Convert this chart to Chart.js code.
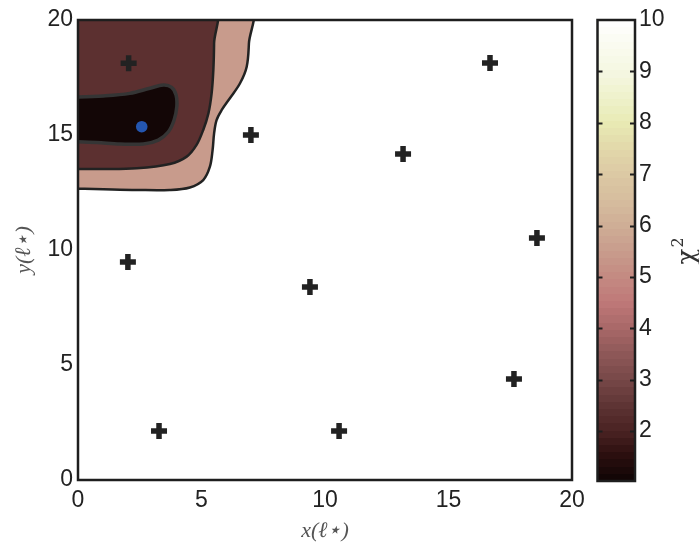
<!DOCTYPE html>
<html><head><meta charset="utf-8">
<script src="https://cdn.jsdelivr.net/npm/chart.js@4.4.0/dist/chart.umd.min.js"></script>
<style>
html,body{margin:0;padding:0;background:#fff;}
#wrap{position:relative;width:699px;height:544px;background:#fff;}
canvas{position:absolute;left:0;top:0;}
</style></head><body>
<div id="wrap"><canvas id="main" width="699" height="544"></canvas><canvas id="cbar" width="699" height="544"></canvas></div>
<script>
// ---- data ----
const axisTicks = [0, 5, 10, 15, 20];
const cbTicks = [2, 3, 4, 5, 6, 7, 8, 9, 10];
const cbRange = [1.03, 10];

// detector positions (plus markers)
const stationX = [2.05, 7.0, 16.68, 13.16, 18.58, 2.02, 9.39, 17.65, 3.28, 10.57];
const stationY = [18.12, 15.0, 18.13, 14.17, 10.52, 9.48, 8.39, 4.39, 2.13, 2.13];
// best-fit source position
const bestX = [2.58];
const bestY = [15.36];

// outer contour (light region)
const outerX = [-0.5, 6.96, 6.92, 6.83, 6.56, 6.15, 5.82, 5.61, 5.51, 5.45, 5.34, 5.07, 4.53, 3.72, 2.38, 1.03, -0.5];
const outerY = [20.5, 20.5, 18.99, 17.97, 17.25, 16.6, 16.09, 15.65, 15.07, 14.35, 13.62, 13.04, 12.72, 12.61, 12.61, 12.64, 12.68];
// middle contour (dark brown region)
const midX = [-0.5, 5.51, 5.51, 5.48, 5.41, 5.28, 5.07, 4.8, 4.4, 3.72, 2.38, 1.03, -0.5];
const midY = [20.5, 20.5, 18.99, 17.83, 16.81, 15.94, 15.22, 14.57, 14.06, 13.74, 13.55, 13.52, 13.53];
// inner contour (minimum region)
const innerX = [-0.5, 1.03, 2.1, 2.91, 3.46, 3.79, 3.97, 4.0, 3.89, 3.66, 3.25, 2.65, 1.7, 0.76, -0.5];
const innerY = [16.63, 16.7, 16.81, 17.03, 17.17, 17.07, 16.74, 16.23, 15.65, 15.14, 14.78, 14.61, 14.61, 14.67, 14.72];

// colormap key colours for chi^2 levels
const cmapLevels = [1.0, 1.5, 2.0, 2.5, 3.0, 3.5, 4.0, 4.5, 5.0, 5.5, 6.0, 6.5, 7.0, 7.5, 8.0, 8.5, 9.0, 9.5, 10.0];
const cmapColors = ['#0d0404', '#2a0e0e', '#4a2222', '#5e3434', '#774848', '#8e5858', '#a86868', '#bf7878', '#c48a82', '#c89c8c', '#cfae96', '#d6bd9e', '#dcc9a4', '#e2d8aa', '#e8eab4', '#eff2cc', '#f5f7e2', '#fafbf0', '#ffffff'];

const zip = (xs, ys) => xs.map((x, i) => ({x, y: ys[i]}));

const tickFont = {family: 'Liberation Sans', size: 23};
const titleFont = {family: 'Liberation Serif', size: 22, style: 'italic'};

const boxPlugin = {
  id: 'box',
  afterDatasetsDraw(chart) {
    const {ctx, chartArea: a} = chart;
    ctx.save();
    ctx.strokeStyle = '#1e1e1e';
    ctx.lineWidth = 2.5;
    ctx.strokeRect(a.left, a.top, a.right - a.left, a.bottom - a.top);
    ctx.restore();
  }
};

new Chart(document.getElementById('main'), {
  type: 'line',
  data: {
    datasets: [
      {type: 'scatter', data: zip(stationX, stationY), pointStyle: 'cross', pointRadius: 8, pointBorderWidth: 5.5, borderColor: '#222', backgroundColor: '#222', pointHoverRadius: 8},
      {type: 'scatter', data: zip(bestX, bestY), pointStyle: 'circle', pointRadius: 5.8, pointBorderWidth: 0, backgroundColor: '#2456b0', borderColor: '#2456b0'},
      {data: zip(innerX, innerY), fill: 'shape', backgroundColor: '#130606', borderColor: '#353535', borderWidth: 3.5, tension: 0.35, pointRadius: 0},
      {data: zip(midX, midY), fill: 'shape', backgroundColor: '#5c3030', borderColor: '#222', borderWidth: 2.5, tension: 0.35, pointRadius: 0},
      {data: zip(outerX, outerY), fill: 'shape', backgroundColor: '#c89b8c', borderColor: '#222', borderWidth: 2.5, tension: 0.35, pointRadius: 0}
    ]
  },
  options: {
    responsive: false, animation: false,
    layout: {padding: {left: 0, top: 20, right: 127, bottom: 0}},
    plugins: {legend: {display: false}, tooltip: {enabled: false}},
    scales: {
      x: {
        type: 'linear', min: 0, max: 20,
        afterBuildTicks: s => { s.ticks = axisTicks.map(v => ({value: v})); },
        afterFit: s => { s.height = 64; },
        grid: {display: false, drawTicks: false}, border: {display: false},
        ticks: {font: tickFont, color: '#222', padding: 7, maxRotation: 0},
        title: {display: true, text: 'x(ℓ⋆)', font: titleFont, color: '#555', padding: {top: 0, bottom: 0}}
      },
      y: {
        type: 'linear', min: 0, max: 20,
        afterBuildTicks: s => { s.ticks = axisTicks.map(v => ({value: v})); },
        afterFit: s => { s.width = 78; },
        grid: {display: false, drawTicks: false}, border: {display: false},
        ticks: {font: tickFont, color: '#222', padding: 5},
        title: {display: true, text: 'y(ℓ⋆)', font: titleFont, color: '#555', padding: {top: 11, bottom: 0}}
      }
    }
  },
  plugins: [boxPlugin]
});

// ---- colour bar ----
function hexToRgb(h) { return [1, 3, 5].map(i => parseInt(h.substr(i, 2), 16)); }
function cmap(v) {
  if (v <= cmapLevels[0]) return hexToRgb(cmapColors[0]);
  for (let i = 1; i < cmapLevels.length; i++) {
    if (v <= cmapLevels[i]) {
      const t = (v - cmapLevels[i - 1]) / (cmapLevels[i] - cmapLevels[i - 1]);
      const a = hexToRgb(cmapColors[i - 1]), b = hexToRgb(cmapColors[i]);
      return a.map((c, k) => Math.round(c + (b[k] - c) * t));
    }
  }
  return hexToRgb(cmapColors[cmapColors.length - 1]);
}

const cbPlugin = {
  id: 'cbdeco',
  afterDatasetsDraw(chart) {
    const {ctx, chartArea: a} = chart;
    const ys = chart.scales.y;
    ctx.save();
    ctx.strokeStyle = '#1e1e1e';
    ctx.lineWidth = 2;
    ys.ticks.forEach(t => {
      if (t.value >= cbRange[1]) return;
      const p = Math.round(ys.getPixelForValue(t.value)) + 0.5;
      ctx.beginPath();
      ctx.moveTo(a.left, p); ctx.lineTo(a.left + 5, p);
      ctx.moveTo(a.right - 5, p); ctx.lineTo(a.right, p);
      ctx.stroke();
    });
    ctx.lineWidth = 2.5;
    ctx.strokeRect(a.left, a.top, a.right - a.left, a.bottom - a.top);
    // colour-bar label: chi^2, reading bottom to top
    ctx.translate(688, (a.top + a.bottom) / 2 + 2);
    ctx.rotate(-Math.PI / 2);
    ctx.fillStyle = '#333';
    ctx.textBaseline = 'middle';
    ctx.textAlign = 'left';
    ctx.font = '26px "DejaVu Serif"';
    const w = ctx.measureText('χ').width;
    ctx.fillText('χ', -w / 2 - 4, 0);
    ctx.font = '16px "DejaVu Serif"';
    ctx.fillText('2', w / 2 - 3, -9);
    ctx.restore();
  }
};

new Chart(document.getElementById('cbar'), {
  type: 'bar',
  data: {
    labels: ['χ²'],
    datasets: [{
      data: [cbRange],
      barPercentage: 1, categoryPercentage: 1, borderWidth: 0,
      backgroundColor: c => {
        const ch = c.chart;
        if (!ch.chartArea) return '#888';
        const ys = ch.scales.y;
        const y0 = ys.getPixelForValue(cbRange[0]), y1 = ys.getPixelForValue(cbRange[1]);
        const g = ch.ctx.createLinearGradient(0, y0, 0, y1);
        const N = 64;
        for (let k = 0; k < N; k++) {
          const v = cbRange[0] + (k + 0.5) * (cbRange[1] - cbRange[0]) / N;
          const col = 'rgb(' + cmap(v).join(',') + ')';
          g.addColorStop(k / N, col);
          g.addColorStop((k + 1) / N, col);
        }
        return g;
      }
    }]
  },
  options: {
    responsive: false, animation: false,
    layout: {padding: {left: 597.5, top: 20, right: 0, bottom: 63}},
    plugins: {legend: {display: false}, tooltip: {enabled: false}},
    scales: {
      x: {display: false},
      y: {
        position: 'right', min: cbRange[0], max: cbRange[1],
        afterBuildTicks: s => { s.ticks = cbTicks.map(v => ({value: v})); },
        afterFit: s => { s.width = 64; },
        grid: {display: false, drawTicks: false}, border: {display: false},
        ticks: {font: tickFont, color: '#222', padding: 4}
      }
    }
  },
  plugins: [cbPlugin]
});
</script>
</body></html>
